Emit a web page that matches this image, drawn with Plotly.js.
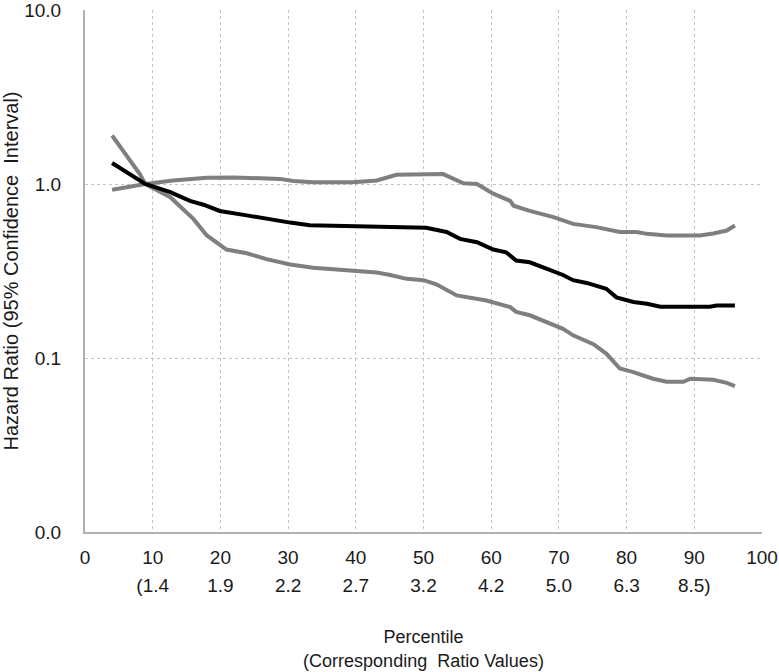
<!DOCTYPE html>
<html>
<head>
<meta charset="utf-8">
<script src="https://cdn.plot.ly/plotly-3.0.1.min.js"></script>
<style>html,body{margin:0;padding:0;background:#fff;}#chart{width:779px;height:672px;}</style>
</head>
<body>
<div id="chart"></div>
<script>
// Hazard ratio (black)
var hrX = [4, 6.5, 8.9, 12.6, 15.5, 17.5, 19.9, 23.9, 26.8, 30.3, 33.2, 35.7, 40, 47.5, 50.4, 53.4, 55.4, 57.9, 60.3, 62.2, 63.7, 65.7, 68.2, 70.6, 72.1, 74.1, 77, 78.5, 81, 83, 85, 92.3, 93.3, 96];
var hrY = [1.32, 1.14, 1.0, 0.897, 0.80, 0.76, 0.70, 0.66, 0.63, 0.60, 0.58, 0.577, 0.565, 0.56, 0.56, 0.53, 0.484, 0.463, 0.42, 0.405, 0.363, 0.355, 0.325, 0.30, 0.28, 0.27, 0.25, 0.223, 0.21, 0.205, 0.197, 0.197, 0.2, 0.2];
// Upper confidence limit (gray)
var upX = [4, 8.9, 13, 18, 22, 26.8, 28.8, 30.8, 33.7, 39.6, 43.1, 46, 50, 52.9, 55.9, 57.9, 60.3, 62.8, 63.3, 65.7, 69.2, 72.1, 75.5, 79, 81.5, 83, 85.9, 90.8, 92.8, 94.8, 96];
var upY = [0.926, 1.0, 1.047, 1.085, 1.09, 1.07, 1.07, 1.04, 1.024, 1.024, 1.047, 1.13, 1.14, 1.14, 1.01, 1.0, 0.88, 0.80, 0.75, 0.70, 0.645, 0.59, 0.565, 0.53, 0.53, 0.517, 0.506, 0.506, 0.52, 0.54, 0.577];
// Lower confidence limit (gray)
var loX = [4, 6.2, 8.1, 8.9, 12.6, 16, 18, 20.9, 23.9, 26.8, 30.3, 33.7, 38.7, 43.1, 45.1, 47.5, 50, 51.9, 54.9, 56.9, 59.3, 62.8, 63.7, 65.7, 68.2, 70.6, 72.1, 75.1, 77, 79, 81, 83.9, 85.9, 88.4, 89.4, 92.8, 94.8, 96];
var loY = [1.90, 1.43, 1.14, 1.0, 0.84, 0.63, 0.506, 0.42, 0.40, 0.37, 0.345, 0.33, 0.32, 0.31, 0.30, 0.285, 0.28, 0.265, 0.229, 0.223, 0.214, 0.196, 0.184, 0.176, 0.16, 0.147, 0.135, 0.12, 0.106, 0.087, 0.083, 0.076, 0.073, 0.073, 0.076, 0.075, 0.072, 0.069];

var pctTicks = [0, 10, 20, 30, 40, 50, 60, 70, 80, 90, 100];
var ratioTickVals = [10, 20, 30, 40, 50, 60, 70, 80, 90];
var ratioTickText = ['(1.4', '1.9', '2.2', '2.7', '3.2', '4.2', '5.0', '6.3', '8.5)'];
var yTickVals = [0.01, 0.1, 1, 10];
var yTickText = ['0.0', '0.1', '1.0', '10.0'];

var FONT = 'Liberation Sans, Arial, sans-serif';
var gray = '#7f7f7f';

var traces = [
  {x: upX, y: upY, mode: 'lines', line: {color: gray, width: 4}, hoverinfo: 'skip'},
  {x: loX, y: loY, mode: 'lines', line: {color: gray, width: 4}, hoverinfo: 'skip'},
  {x: hrX, y: hrY, mode: 'lines', line: {color: '#000', width: 4}, hoverinfo: 'skip'},
  {x: [], y: [], xaxis: 'x2', yaxis: 'y', mode: 'lines', showlegend: false, hoverinfo: 'skip'}
];

var layout = {
  width: 779, height: 672,
  margin: {l: 85, r: 17, t: 10, b: 140},
  paper_bgcolor: '#fff', plot_bgcolor: '#fff',
  showlegend: false,
  font: {family: FONT, size: 18, color: '#1a1a1a'},
  xaxis: {
    range: [0, 100], tickvals: pctTicks, ticktext: pctTicks.map(String),
    showgrid: true, gridcolor: '#c4c4c4', griddash: 'dot', gridwidth: 1,
    zeroline: false, showline: true, linecolor: '#b0b0b0', linewidth: 2,
    ticks: '', ticklabelstandoff: 7, ticklabeloverflow: 'allow',
    tickfont: {family: FONT, size: 19, color: '#1a1a1a'},
    title: {text: 'Percentile<br>(Corresponding\u00A0 Ratio Values)', standoff: 64,
            font: {family: FONT, size: 18, color: '#1a1a1a'}}
  },
  xaxis2: {
    overlaying: 'x', matches: 'x', side: 'bottom', anchor: 'y',
    range: [0, 100], tickvals: ratioTickVals, ticktext: ratioTickText,
    showgrid: false, zeroline: false, showline: false, ticks: '',
    ticklabelstandoff: 40, ticklabeloverflow: 'allow',
    tickfont: {family: FONT, size: 19, color: '#1a1a1a'}
  },
  yaxis: {
    type: 'log', range: [-2, 1], tickvals: yTickVals, ticktext: yTickText,
    showgrid: true, gridcolor: '#c4c4c4', griddash: 'dot', gridwidth: 1,
    zeroline: false, showline: true, linecolor: '#b0b0b0', linewidth: 2,
    ticks: '', ticklabelstandoff: 18, ticklabeloverflow: 'allow',
    tickfont: {family: FONT, size: 19, color: '#1a1a1a'},
    title: {text: 'Hazard Ratio (95% Confidence\u00A0 Interval)', standoff: 4,
            font: {family: FONT, size: 20, color: '#1a1a1a'}}
  }
};

Plotly.newPlot('chart', traces, layout, {staticPlot: true, displayModeBar: false});
</script>
</body>
</html>
